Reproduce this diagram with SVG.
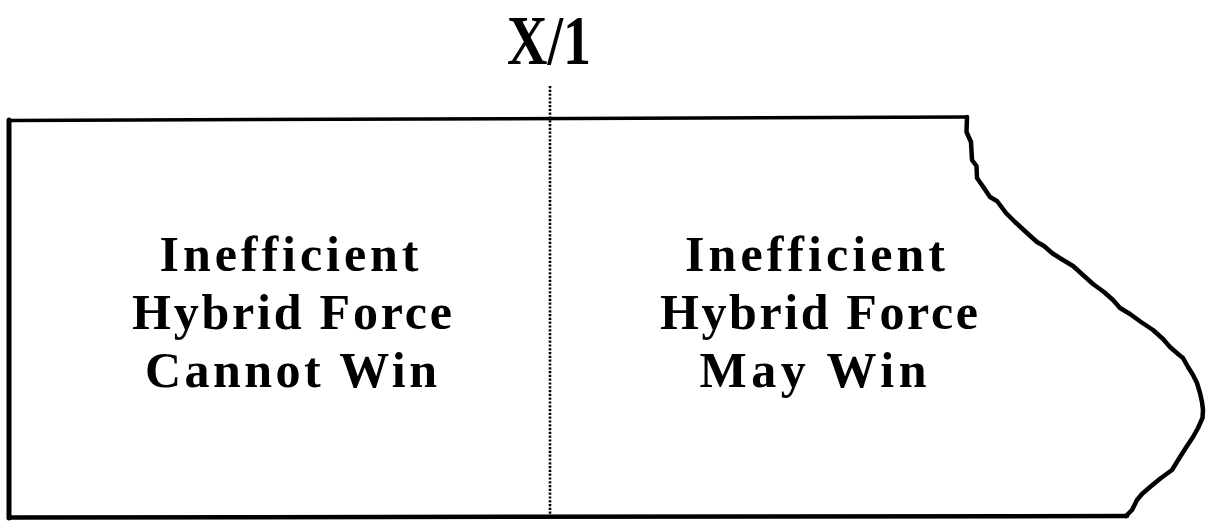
<svg xmlns="http://www.w3.org/2000/svg" width="1210" height="525" viewBox="0 0 1210 525">
  <style>
    .label { font-family: "Liberation Serif", "DejaVu Serif", serif; font-weight: bold; font-size: 50px; fill: #000; text-anchor: middle; }
    .title { font-family: "Liberation Serif", "DejaVu Serif", serif; font-weight: bold; font-size: 70px; fill: #000; text-anchor: middle; }
    .edge { fill: none; stroke: #000; stroke-linejoin: round; stroke-linecap: round; }
  </style>
  <rect width="1210" height="525" fill="#fff"/>

  <!-- outer region boundary with torn right edge -->
  <g id="frame">
    <path class="edge" stroke-width="3.5" d="M 9 120.5 L 967 117"/>
    <path class="edge" stroke-width="5" d="M 9 120 L 9 518"/>
    <path class="edge" stroke-width="4.5" d="M 9 517.5 L 1127 516"/>
    <path class="edge" stroke-width="4.5" d="M 967 117 L 966.5 132 L 971 142 L 972 160 L 976.5 166 L 977 178 L 984 188 L 990 197 L 997 201 L 1006 213 L 1015 222 L 1027 233 L 1037 242 L 1044 246 L 1052 253 L 1063 260 L 1073 266 L 1083 275 L 1093 284 L 1104 292 L 1113 300 L 1120 308 L 1130 314 L 1141 322 L 1153 330 L 1163 339 L 1170 347 L 1178 354 L 1183 358 L 1188 367 L 1193 375 L 1197 383 L 1200 393 L 1202 402 L 1203 410 L 1202.5 418 L 1198 428 L 1193 437 L 1187 446 L 1180 457 L 1172 470 L 1161 478 L 1150 487 L 1142 494 L 1137 500 L 1132 510 L 1126 516"/>
  </g>

  <!-- threshold divider -->
  <g id="divider">
    <line x1="550" y1="86" x2="550" y2="516" stroke="#000" stroke-width="2.6" stroke-dasharray="2.2 1.6"/>
  </g>

  <g id="threshold-label">
    <text class="title" x="549" y="64" textLength="84" lengthAdjust="spacingAndGlyphs">X/1</text>
  </g>

  <g id="region-cannot-win">
    <text class="label" x="289" y="271" textLength="259" lengthAdjust="spacing">Inefficient</text>
    <text class="label" x="292" y="329" textLength="320" lengthAdjust="spacing">Hybrid Force</text>
    <text class="label" x="291" y="387" textLength="292" lengthAdjust="spacing">Cannot Win</text>
  </g>

  <g id="region-may-win">
    <text class="label" x="815" y="271" textLength="260" lengthAdjust="spacing">Inefficient</text>
    <text class="label" x="819" y="329" textLength="318" lengthAdjust="spacing">Hybrid Force</text>
    <text class="label" x="813" y="387" textLength="227" lengthAdjust="spacing">May Win</text>
  </g>
</svg>
